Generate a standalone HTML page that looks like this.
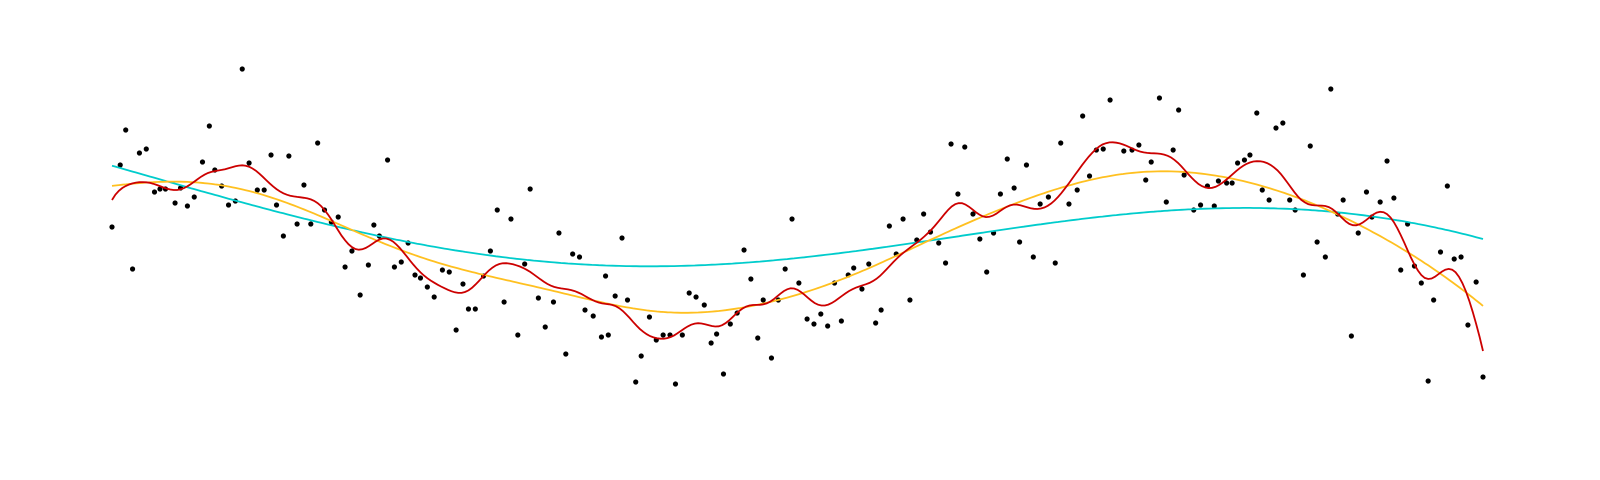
<!DOCTYPE html>
<html><head><meta charset="utf-8"><style>
html,body{margin:0;padding:0;background:#fff;}
svg{display:block;}
</style></head><body>
<svg id="chart" width="1600" height="480"></svg>
<script>
// data: x in 0..100, y values (higher = up)
const xs = [0,0.6,1.0,1.5,2.0,2.5,3.1,3.5,3.9,4.6,5.0,5.5,6.0,6.6,7.1,7.5,8.0,8.5,9.0,9.5,10.0,10.6,11.1,11.6,12.0,12.5,12.9,13.5,14.0,14.5,15.0,15.5,16.0,16.5,17.0,17.5,18.1,18.7,19.1,19.5,20.1,20.6,21.1,21.6,22.1,22.5,23.0,23.5,24.1,24.6,25.1,25.6,26.0,26.5,27.1,27.6,28.1,28.6,29.1,29.6,30.1,30.5,31.1,31.6,32.2,32.6,33.1,33.6,34.1,34.5,35.1,35.7,36.0,36.2,36.7,37.2,37.6,38.2,38.6,39.2,39.7,40.2,40.7,41.1,41.6,42.1,42.6,43.2,43.7,44.1,44.6,45.1,45.6,46.1,46.6,47.1,47.5,48.1,48.6,49.1,49.6,50.1,50.7,51.2,51.7,52.2,52.7,53.2,53.7,54.1,54.7,55.2,55.7,56.1,56.7,57.2,57.7,58.2,58.7,59.2,59.7,60.3,60.8,61.2,61.7,62.2,62.8,63.3,63.8,64.3,64.8,65.3,65.8,66.2,66.7,67.2,67.7,68.3,68.8,69.2,69.8,70.4,70.8,71.3,71.8,72.3,72.8,73.8,74.4,74.9,75.4,75.8,76.4,76.9,77.4,77.8,78.2,78.9,79.4,79.9,80.4,80.7,81.3,81.7,82.1,82.6,83.0,83.5,83.9,84.4,84.9,85.4,85.9,86.3,86.9,87.4,87.9,88.5,88.9,89.4,89.8,90.4,90.9,91.5,91.9,92.5,93.0,93.5,94.0,94.5,95.0,95.5,96.0,96.4,96.9,97.4,97.9,98.4,98.9,99.5,100];
const ys = [13,75,110,-29,87,91,48,51,51,37,52,34,43,78,114,70,54,35,39,171,77,50,50,85,35,4,84,16,55,16,97,30,18,23,-27,-11,-55,-25,15,4,80,-27,-22,-3,-35,-38,-47,-57,-30,-32,-90,-44,-69,-69,-36,-11,30,-62,21,-95,-24,51,-58,-87,-62,7,-114,-14,-17,-70,-76,-97,-36,-95,-56,2,-60,-142,-116,-77,-100,-95,-95,-144,-95,-53,-57,-65,-103,-94,-134,-84,-73,-10,-39,-98,-60,-118,-60,-29,21,-43,-79,-84,-74,-86,-43,-81,-35,-28,-49,-24,-83,-70,14,-14,21,-60,0,26,8,-3,-23,96,46,93,26,1,-32,7,46,81,52,-2,75,-17,36,43,-23,97,36,50,124,64,90,91,140,89,90,95,60,78,142,38,90,130,65,30,35,54,34,59,57,57,77,80,85,127,50,40,112,117,40,30,-35,94,-2,-17,151,26,40,-96,7,48,23,38,79,42,-30,16,-26,-43,-141,-60,-12,54,-19,-17,-85,-42,-137];

function sx(x){return 112+x*13.71;}
function sy(y){return 240-y;}
const svg=document.getElementById('chart');
const NS='http://www.w3.org/2000/svg';

function localLinear(bw){
  return x=>{
    let sw=0,swx=0,swy=0,swxx=0,swxy=0;
    for(let k=0;k<xs.length;k++){
      const d=xs[k]-x, w=Math.exp(-0.5*d*d/(bw*bw));
      sw+=w;swx+=w*d;swy+=w*ys[k];swxx+=w*d*d;swxy+=w*d*ys[k];
    }
    const den=sw*swxx-swx*swx;
    return (swxx*swy-swx*swxy)/den;
  };
}
function drawCurve(f,color,name){
  let d='';
  for(let i=0;i<=400;i++){const x=i/4;d+=(i?'L':'M')+sx(x).toFixed(1)+' '+sy(f(x)).toFixed(1);}
  const p=document.createElementNS(NS,'path');
  p.setAttribute('d',d);p.setAttribute('fill','none');p.setAttribute('stroke',color);p.setAttribute('stroke-width','1.8');
  
  
  svg.appendChild(p);
}
const g=document.createElementNS(NS,'g');


svg.appendChild(g);
for(let k=0;k<xs.length;k++){
  const c=document.createElementNS(NS,'circle');
  c.setAttribute('cx',sx(xs[k]));c.setAttribute('cy',sy(ys[k]));c.setAttribute('r','2.6');c.setAttribute('fill','#000');
  
  
  g.appendChild(c);
}
drawCurve(localLinear(20),'#00cccc','wide-smoother-line');
drawCurve(localLinear(6),'#ffc020','medium-smoother-line');
drawCurve(localLinear(1.2),'#cc0000','narrow-smoother-line');
</script>
</body></html>
